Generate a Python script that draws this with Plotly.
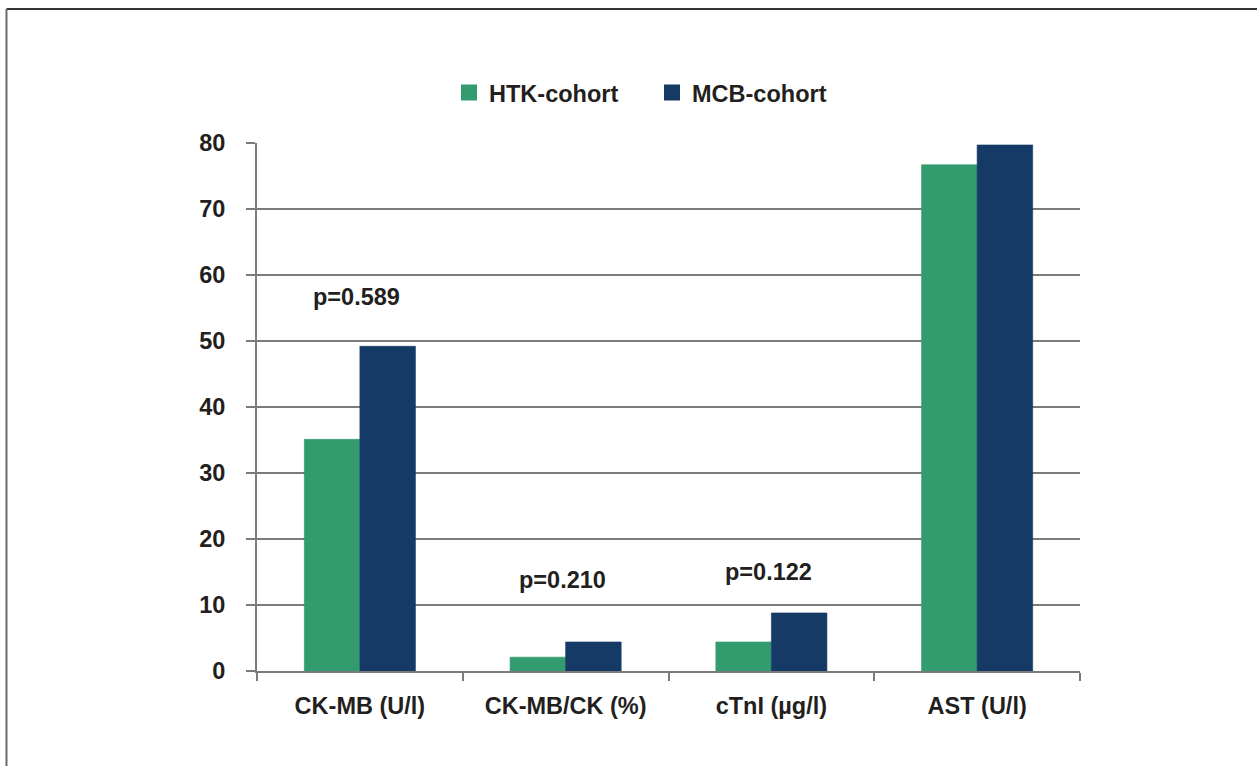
import plotly.graph_objects as go

# Cardiac marker levels by cohort
categories = ["CK-MB (U/l)", "CK-MB/CK (%)", "cTnI (µg/l)", "AST (U/l)"]
htk_values = [35.1, 2.1, 4.4, 76.7]
mcb_values = [49.2, 4.4, 8.8, 79.7]
p_labels = ["p=0.589", "p=0.210", "p=0.122", "p=0.899"]
y_ticks = [0, 10, 20, 30, 40, 50, 60, 70, 80]

GREEN = "#339C6F"
NAVY = "#163A66"
GREY = "#7A7A7A"
TEXT = "#231F20"
FONT = "Liberation Sans, Arial, sans-serif"
FS = 23.5

fig = go.Figure()
fig.add_trace(go.Bar(x=categories, y=htk_values, name="HTK-cohort",
                     marker=dict(color=GREEN, line=dict(color=GREEN, width=0.6)),
                     showlegend=False))
fig.add_trace(go.Bar(x=categories, y=mcb_values, name="MCB-cohort",
                     marker=dict(color=NAVY, line=dict(color=NAVY, width=0.6)),
                     showlegend=False))

# legend entries with larger square swatches
for name, color in [("HTK-cohort", GREEN), ("MCB-cohort", NAVY)]:
    fig.add_trace(go.Scatter(x=[None], y=[None], mode="markers", name=f"<b>{name}</b>",
                             marker=dict(symbol="square", size=16, color=color)))

# p-value labels above each group
label_y = [56.7, 13.8, 15.0, 84.7]
for cat, txt, ly in zip(categories, p_labels, label_y):
    fig.add_annotation(x=cat, y=ly, text=f"<b>{txt}</b>", showarrow=False,
                       xshift=-3, font=dict(size=FS, color=TEXT, family=FONT))

# figure frame: top and left edges
fig.add_shape(type="line", xref="paper", yref="paper",
              x0=-0.3044, x1=1.25, y0=1.2538, y1=1.2538,
              line=dict(color="#333333", width=2))
fig.add_shape(type="line", xref="paper", yref="paper",
              x0=-0.3044, x1=-0.3044, y0=1.2538, y1=-0.2,
              line=dict(color="#6a6a6a", width=2))

fig.update_layout(
    width=1257, height=766,
    margin=dict(l=257, r=177, t=143, b=95),
    paper_bgcolor="white", plot_bgcolor="white",
    barmode="group", bargap=0.46, bargroupgap=0,
    font=dict(family=FONT, size=FS, color=TEXT),
    legend=dict(orientation="h", x=0.2333, y=1.095, xanchor="left", yanchor="middle",
                entrywidth=158, font=dict(size=FS, color=TEXT, family=FONT),
                bgcolor="rgba(0,0,0,0)"),
    xaxis=dict(showline=True, linecolor=GREY, linewidth=2,
               ticks="outside", tickson="boundaries", ticklen=8, tickwidth=2,
               tickcolor=GREY, showgrid=False, ticklabelstandoff=13,
               tickfont=dict(size=FS, color=TEXT, family=FONT),
               tickvals=categories, ticktext=[f"<b>{c}</b>" for c in categories]),
    yaxis=dict(range=[0, 80], tickvals=y_ticks,
               ticktext=[f"<b>{v}</b>" for v in y_ticks],
               showline=True, linecolor=GREY, linewidth=2,
               ticks="outside", ticklen=9, tickwidth=2, tickcolor=GREY,
               showgrid=True, gridcolor=GREY, gridwidth=2, zeroline=False,
               ticklabelstandoff=16,
               tickfont=dict(size=FS, color=TEXT, family=FONT)),
)

fig.write_html("out.html")
